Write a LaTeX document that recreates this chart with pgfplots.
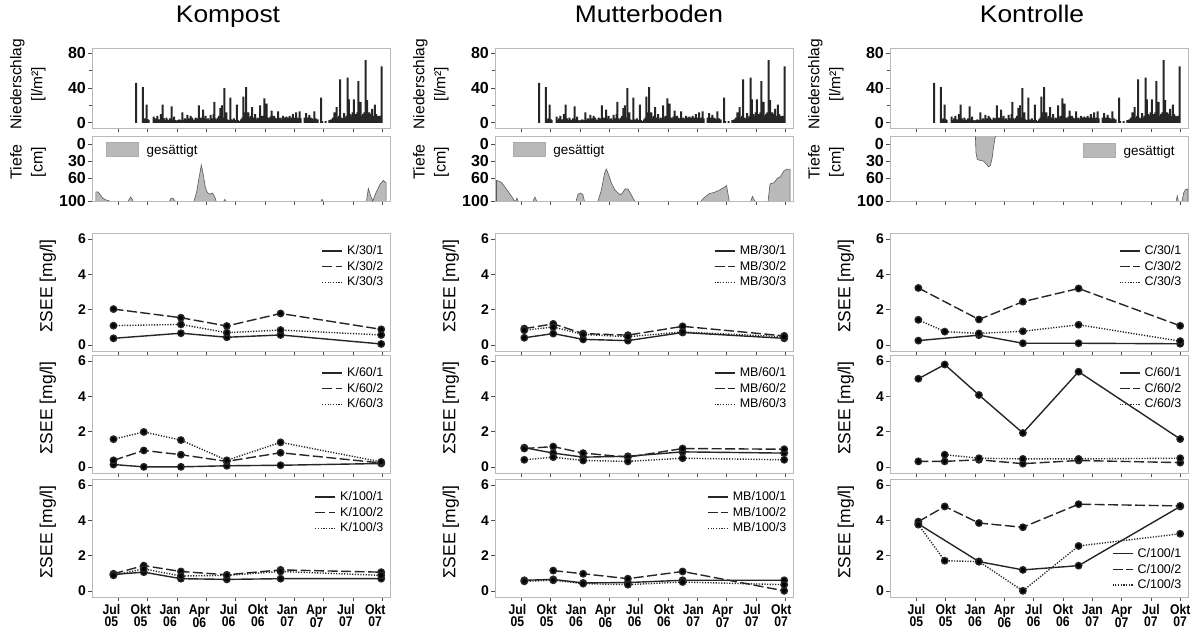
\documentclass[border=0pt]{standalone}
\usepackage{pgfplots}
\usepackage{pgfplotstable}
\pgfplotsset{compat=1.18}
\usepackage{fontspec}
\setmainfont{Liberation Sans}
\newfontfamily\narrowfont[FakeStretch=0.87]{Liberation Sans}
\newfontfamily\titlefont[FakeStretch=1.1]{Liberation Sans}

\pgfplotstableread{
m v
1.82 46
2.50 41
2.62 4
2.75 5
2.90 21
3.02 4
3.10 3
3.60 7
3.72 3
3.85 5
4.00 8
4.12 4
4.25 3
4.36 10
4.53 21
4.65 5
4.78 3
4.90 6
5.02 4
5.15 3
5.30 5
5.44 19
5.57 4
5.70 7
5.83 3
5.96 2
6.10 3
6.25 4
6.40 3
6.55 12
6.68 3
6.80 5
6.93 4
7.06 9
7.20 5
7.30 4
7.40 8
7.52 6
7.65 4
7.78 3
7.90 6
8.02 5
8.12 4
8.24 20
8.36 5
8.48 6
8.58 4
8.68 15
8.80 5
8.92 8
9.05 4
9.18 5
9.30 3
9.43 9
9.55 5
9.66 4
9.76 10
9.83 24
9.95 5
10.08 4
10.20 6
10.32 8
10.44 17
10.60 20
10.72 6
10.84 40
10.95 8
11.05 12
11.15 4
11.28 3
11.45 29
11.57 4
11.70 3
11.82 5
11.95 3
12.13 21
12.25 3
12.40 2
12.55 4
12.68 6
12.80 30
12.90 12
13.00 8
13.07 41
13.18 10
13.30 12
13.42 6
13.55 8
13.70 18
13.82 5
13.92 6
14.00 10
14.12 4
14.25 6
14.38 5
14.50 20
14.62 6
14.75 8
14.85 5
14.93 28
15.05 8
15.17 22
15.30 6
15.42 5
15.55 7
15.68 14
15.80 5
15.92 8
16.05 6
16.18 5
16.35 13
16.48 5
16.60 6
16.72 4
16.86 8
17.00 5
17.10 6
17.20 7
17.32 4
17.43 6
17.53 8
17.65 5
17.76 6
17.87 10
17.98 5
18.10 6
18.20 12
18.32 5
18.44 6
18.55 13
18.65 5
19.05 6
19.15 5
19.22 11
19.35 6
19.45 5
19.56 9
19.68 6
19.80 5
19.95 4
20.07 13
20.20 5
20.30 4
20.40 4
20.74 29
20.86 2
21.20 2
21.60 3
21.80 4
21.95 6
22.10 12
22.22 5
22.33 18
22.45 6
22.58 8
22.70 50
22.82 6
22.95 5
23.10 11
23.22 6
23.35 8
23.45 52
23.60 27
23.72 10
23.85 8
23.98 12
24.10 27
24.22 10
24.35 8
24.45 12
24.56 48
24.68 10
24.80 24
24.92 8
25.05 10
25.18 12
25.30 72
25.40 10
25.47 26
25.58 8
25.70 12
25.82 10
25.98 16
26.10 8
26.25 21
26.38 10
26.50 8
26.62 7
26.75 8
26.93 65
}\precip

\tikzset{
  s1/.style={black!85, line width=1.4pt, solid, mark=*, mark size=3.2pt, mark options={solid, fill=black}},
  s2/.style={black!85, line width=1.4pt, dash pattern=on 10pt off 3.5pt, mark=*, mark size=3.2pt, mark options={solid, fill=black}},
  s3/.style={black!85, line width=1.4pt, dash pattern=on 1.2pt off 1.5pt, mark=*, mark size=3.2pt, mark options={solid, fill=black}},
  dfill/.style={fill=gray!55, draw=black!65, line width=0.6pt},
}

\pgfplotsset{
  colbase/.style={
    scale only axis, width=298pt, xmin=-2.7, xmax=27.8,
    xtick={0,3,...,27}, tick pos=left, tick align=outside,
    axis line style={draw=gray!55, line width=0.7pt},
    every tick/.style={draw=black!70, line width=0.6pt},
    major tick length=4pt, minor tick length=3pt,
    /pgf/number format/assume math mode=true,
    yticklabel style={font=\bfseries\fontsize{14}{14}\selectfont, inner sep=2pt},
  },
  precipax/.style={colbase, height=80pt, ymin=-6, ymax=86,
    ytick={0,40,80}, minor ytick={20,60}, xticklabels={},
    yticklabel style={font=\bfseries\fontsize{16}{16}\selectfont},
    ylabel={Niederschlag\\{[l/m²]}},
    every axis y label/.style={at={(axis description cs:-0.215,0.55)}, rotate=90, anchor=center,
      align=center, font=\fontsize{15.5}{21}\selectfont},
    ybar, bar width=2pt,
    title style={font=\titlefont\fontsize{24}{24}\selectfont, at={(axis description cs:0.5,1)}, anchor=base, yshift=20pt},
  },
  depthax/.style={colbase, height=65pt, y dir=reverse, ymin=-14, ymax=100,
    ytick={0,30,60,100}, xticklabels={},
    yticklabel style={font=\bfseries\fontsize{16}{16}\selectfont},
    ylabel={Tiefe\\{[cm]}},
    every axis y label/.style={at={(axis description cs:-0.215,0.6)}, rotate=90, anchor=center,
      align=center, font=\fontsize{16}{21}\selectfont},
    legend style={draw=none, fill=none, anchor=north west, font=\fontsize{13.5}{14}\selectfont, inner sep=0pt},
    legend image code/.code={\draw[fill=gray!55, draw=gray!65] (0pt,-6pt) rectangle (32pt,8pt); \path[draw=none, fill=none] (32pt,0pt) -- (38pt,0pt);},
  },
  lineax/.style={colbase, height=118pt, ymin=-0.35, ymax=6.35, ytick={0,2,4,6},
    ylabel={ΣSEE [mg/l]},
    every axis y label/.style={at={(axis description cs:-0.148,0.55)}, rotate=90, anchor=center,
      font=\fontsize{17.5}{18}\selectfont},
    legend style={draw=none, fill=none, at={(0.985,0.91)}, anchor=north east,
      font=\fontsize{12.5}{13}\selectfont, inner sep=0pt, row sep=1pt},
    legend cell align=left,
    legend image code/.code={\draw[#1, line width=1.4pt] (0pt,0pt) -- (20pt,0pt); \path[draw=none, fill=none] (20pt,0pt) -- (23pt,0pt);},
  },
  bottomax/.style={lineax, xticklabels={{Jul\\05},{Okt\\05},{Jan\\06},{Apr\\06},{Jul\\06},{Okt\\06},{Jan\\07},{Apr\\07},{Jul\\07},{Okt\\07}},
    xticklabel style={align=center, font=\narrowfont\bfseries\fontsize{14}{12}\selectfont}},
  midax/.style={lineax, xticklabels={}},
}

\begin{document}
\begin{tikzpicture}
\useasboundingbox (0pt,0pt) rectangle (1192pt,-632pt);
\fill[white] (0pt,0pt) rectangle (1192pt,-632pt);

% ================= Kompost =================
\begin{axis}[precipax, at={(92pt,-48pt)}, anchor=north west, title={Kompost}, title style={xshift=-13pt}]
\addplot[fill=black!85, draw=none] table[x=m, y=v] {\precip};
\end{axis}
\begin{axis}[depthax, at={(92pt,-136pt)}, anchor=north west, legend style={at={(0.047,0.91)}}]
\addplot[dfill] coordinates {(-2.3,100)(-2.3,84)(-2.1,84)(-1.9,88)(-1.6,95)(-1.3,98)(-0.9,100)};
\addlegendentry{gesättigt}
\addplot[dfill, forget plot] coordinates {(1.0,100)(1.26,93)(1.5,100)};
\addplot[dfill, forget plot] coordinates {(5.25,100)(5.4,95)(5.6,95)(5.8,100)};
\addplot[dfill, forget plot] coordinates {(7.74,100)(8.0,85)(8.25,60)(8.49,37)(8.7,55)(8.9,76)(9.1,85)(9.35,88)(9.6,86)(9.85,92)(10.0,100)};
\addplot[dfill, forget plot] coordinates {(10.8,100)(10.9,97)(11.0,100)};
\addplot[dfill, forget plot] coordinates {(20.75,100)(20.84,97)(20.95,100)};
\addplot[dfill, forget plot] coordinates {(25.4,100)(25.58,78)(25.8,90)(26.03,100)(26.4,84)(26.8,70)(27.12,64)(27.4,68)(27.4,100)};
\end{axis}
\begin{axis}[midax, at={(92pt,-233pt)}, anchor=north west]
\addplot[s1] coordinates {(-0.5,0.37)(6.4,0.66)(11.1,0.43)(16.6,0.56)(26.9,0.05)}; \addlegendentry{K/30/1}
\addplot[s2] coordinates {(-0.5,2.03)(6.4,1.54)(11.1,1.07)(16.6,1.78)(26.9,0.88)}; \addlegendentry{K/30/2}
\addplot[s3] coordinates {(-0.5,1.09)(6.4,1.16)(11.1,0.69)(16.6,0.84)(26.9,0.56)}; \addlegendentry{K/30/3}
\end{axis}
\begin{axis}[midax, at={(92pt,-355pt)}, anchor=north west]
\addplot[s1] coordinates {(-0.5,0.13)(2.6,0.0)(6.4,0.0)(11.1,0.06)(16.6,0.09)(26.9,0.19)}; \addlegendentry{K/60/1}
\addplot[s2] coordinates {(-0.5,0.37)(2.6,0.93)(6.4,0.69)(11.1,0.31)(16.6,0.8)(26.9,0.22)}; \addlegendentry{K/60/2}
\addplot[s3] coordinates {(-0.5,1.57)(2.6,1.98)(6.4,1.52)(11.1,0.37)(16.6,1.39)(26.9,0.28)}; \addlegendentry{K/60/3}
\end{axis}
\begin{axis}[bottomax, at={(92pt,-479pt)}, anchor=north west, xticklabel style={xshift=-7pt}]
\addplot[s1] coordinates {(-0.5,0.93)(2.6,1.06)(6.4,0.69)(11.1,0.65)(16.6,0.69)(26.9,0.69)}; \addlegendentry{K/100/1}
\addplot[s2] coordinates {(-0.5,0.97)(2.6,1.43)(6.4,1.1)(11.1,0.91)(16.6,1.19)(26.9,1.06)}; \addlegendentry{K/100/2}
\addplot[s3] coordinates {(-0.5,0.88)(2.6,1.25)(6.4,0.84)(11.1,0.88)(16.6,1.1)(26.9,0.88)}; \addlegendentry{K/100/3}
\end{axis}

% ================= Mutterboden =================
\begin{axis}[precipax, at={(495pt,-48pt)}, anchor=north west, title={Mutterboden}, title style={xshift=5pt}]
\addplot[fill=black!85, draw=none] table[x=m, y=v] {\precip};
\end{axis}
\begin{axis}[depthax, at={(495pt,-136pt)}, anchor=north west, legend style={at={(0.06,0.91)}}]
\addplot[dfill] coordinates {(-2.55,100)(-2.55,64)(-2.3,65)(-2.0,68)(-1.5,80)(-1.0,92)(-0.75,99)(-0.6,100)};
\addlegendentry{gesättigt}
\addplot[dfill, forget plot] coordinates {(-0.55,100)(-0.45,95)(-0.35,100)};
\addplot[dfill, forget plot] coordinates {(1.2,100)(1.39,93)(1.56,100)};
\addplot[dfill, forget plot] coordinates {(5.6,100)(5.8,88)(6.05,86)(6.3,89)(6.45,100)};
\addplot[dfill, forget plot] coordinates {(7.85,100)(8.2,80)(8.5,52)(8.7,44)(8.95,55)(9.2,68)(9.55,80)(9.89,86)(10.15,89)(10.35,86)(10.6,79)(10.9,79)(11.24,89)(11.59,100)};
\addplot[dfill, forget plot] coordinates {(18.38,100)(18.72,94)(19.24,87)(19.74,85)(20.25,81)(20.76,76)(21.0,73)(21.27,100)};
\addplot[dfill, forget plot] coordinates {(23.48,100)(23.65,92)(23.89,100)};
\addplot[dfill, forget plot] coordinates {(25.25,100)(25.45,70)(25.86,68)(26.2,60)(26.5,57.6)(26.88,47)(27.2,44)(27.5,44)(27.5,100)};
\end{axis}
\begin{axis}[midax, at={(495pt,-233pt)}, anchor=north west]
\addplot[s1] coordinates {(0.3,0.4)(3.26,0.64)(6.32,0.31)(10.9,0.24)(16.5,0.7)(26.9,0.37)}; \addlegendentry{MB/30/1}
\addplot[s2] coordinates {(0.3,0.92)(3.26,1.19)(6.32,0.64)(10.9,0.55)(16.5,1.05)(26.9,0.51)}; \addlegendentry{MB/30/2}
\addplot[s3] coordinates {(0.3,0.83)(3.26,1.01)(6.32,0.59)(10.9,0.46)(16.5,0.73)(26.9,0.46)}; \addlegendentry{MB/30/3}
\end{axis}
\begin{axis}[midax, at={(495pt,-355pt)}, anchor=north west]
\addplot[s1] coordinates {(0.3,1.09)(3.26,0.78)(6.32,0.55)(10.9,0.6)(16.5,0.85)(26.9,0.78)}; \addlegendentry{MB/60/1}
\addplot[s2] coordinates {(0.3,1.04)(3.26,1.15)(6.32,0.78)(10.9,0.55)(16.5,1.04)(26.9,1.0)}; \addlegendentry{MB/60/2}
\addplot[s3] coordinates {(0.3,0.4)(3.26,0.55)(6.32,0.36)(10.9,0.31)(16.5,0.49)(26.9,0.4)}; \addlegendentry{MB/60/3}
\end{axis}
\begin{axis}[bottomax, at={(495pt,-479pt)}, anchor=north west, xticklabel style={xshift=-4pt}]
\addplot[s1] coordinates {(0.3,0.6)(3.26,0.65)(6.32,0.45)(10.9,0.47)(16.5,0.6)(26.9,0.6)}; \addlegendentry{MB/100/1}
\addplot[s2] coordinates {(3.26,1.15)(6.32,0.97)(10.9,0.69)(16.5,1.1)(26.9,0.0)}; \addlegendentry{MB/100/2}
\addplot[s3] coordinates {(0.3,0.54)(3.26,0.6)(6.32,0.41)(10.9,0.35)(16.5,0.5)(26.9,0.35)}; \addlegendentry{MB/100/3}
\end{axis}

% ================= Kontrolle =================
\begin{axis}[precipax, at={(890pt,-48pt)}, anchor=north west, title={Kontrolle}, title style={xshift=-7pt}]
\addplot[fill=black!85, draw=none] table[x=m, y=v] {\precip};
\end{axis}
\begin{axis}[depthax, at={(890pt,-136pt)}, anchor=north west, legend style={at={(0.648,0.9)}}]
\addplot[dfill] coordinates {(6.04,-14)(6.1,15)(6.24,27.5)(6.86,30)(7.2,36)(7.37,40)(7.57,38)(7.75,25)(7.88,7)(8.09,-14)};
\addlegendentry{gesättigt}
\addplot[dfill, forget plot] coordinates {(26.6,100)(26.7,91)(26.8,100)};
\addplot[dfill, forget plot] coordinates {(27.2,100)(27.35,86)(27.55,80)(27.8,79)(27.8,100)};
\end{axis}
\begin{axis}[midax, at={(890pt,-233pt)}, anchor=north west]
\addplot[s1] coordinates {(0.2,0.24)(6.4,0.55)(10.9,0.09)(16.6,0.09)(27,0.06)}; \addlegendentry{C/30/1}
\addplot[s2] coordinates {(0.2,3.23)(6.4,1.44)(10.9,2.45)(16.6,3.2)(27,1.08)}; \addlegendentry{C/30/2}
\addplot[s3] coordinates {(0.2,1.42)(2.9,0.75)(6.4,0.65)(10.9,0.77)(16.6,1.14)(27,0.21)}; \addlegendentry{C/30/3}
\end{axis}
\begin{axis}[midax, at={(890pt,-355pt)}, anchor=north west]
\addplot[s1] coordinates {(0.2,5.0)(2.9,5.81)(6.4,4.08)(10.9,1.92)(16.6,5.4)(27,1.58)}; \addlegendentry{C/60/1}
\addplot[s2] coordinates {(0.2,0.31)(2.9,0.31)(6.4,0.4)(10.9,0.18)(16.6,0.36)(27,0.24)}; \addlegendentry{C/60/2}
\addplot[s3] coordinates {(2.9,0.69)(6.4,0.49)(10.9,0.45)(16.6,0.45)(27,0.49)}; \addlegendentry{C/60/3}
\end{axis}
\begin{axis}[bottomax, at={(890pt,-479pt)}, anchor=north west, legend style={at={(0.985,0.04)}, anchor=south east}]
\addplot[s1] coordinates {(0.2,3.8)(6.4,1.66)(10.9,1.19)(16.6,1.43)(27,4.79)}; \addlegendentry{C/100/1}
\addplot[s2] coordinates {(0.2,3.93)(2.9,4.79)(6.4,3.85)(10.9,3.61)(16.6,4.92)(27,4.82)}; \addlegendentry{C/100/2}
\addplot[s3] coordinates {(0.2,3.76)(2.9,1.71)(6.4,1.66)(10.9,0.0)(16.6,2.55)(27,3.24)}; \addlegendentry{C/100/3}
\end{axis}
\end{tikzpicture}
\end{document}
